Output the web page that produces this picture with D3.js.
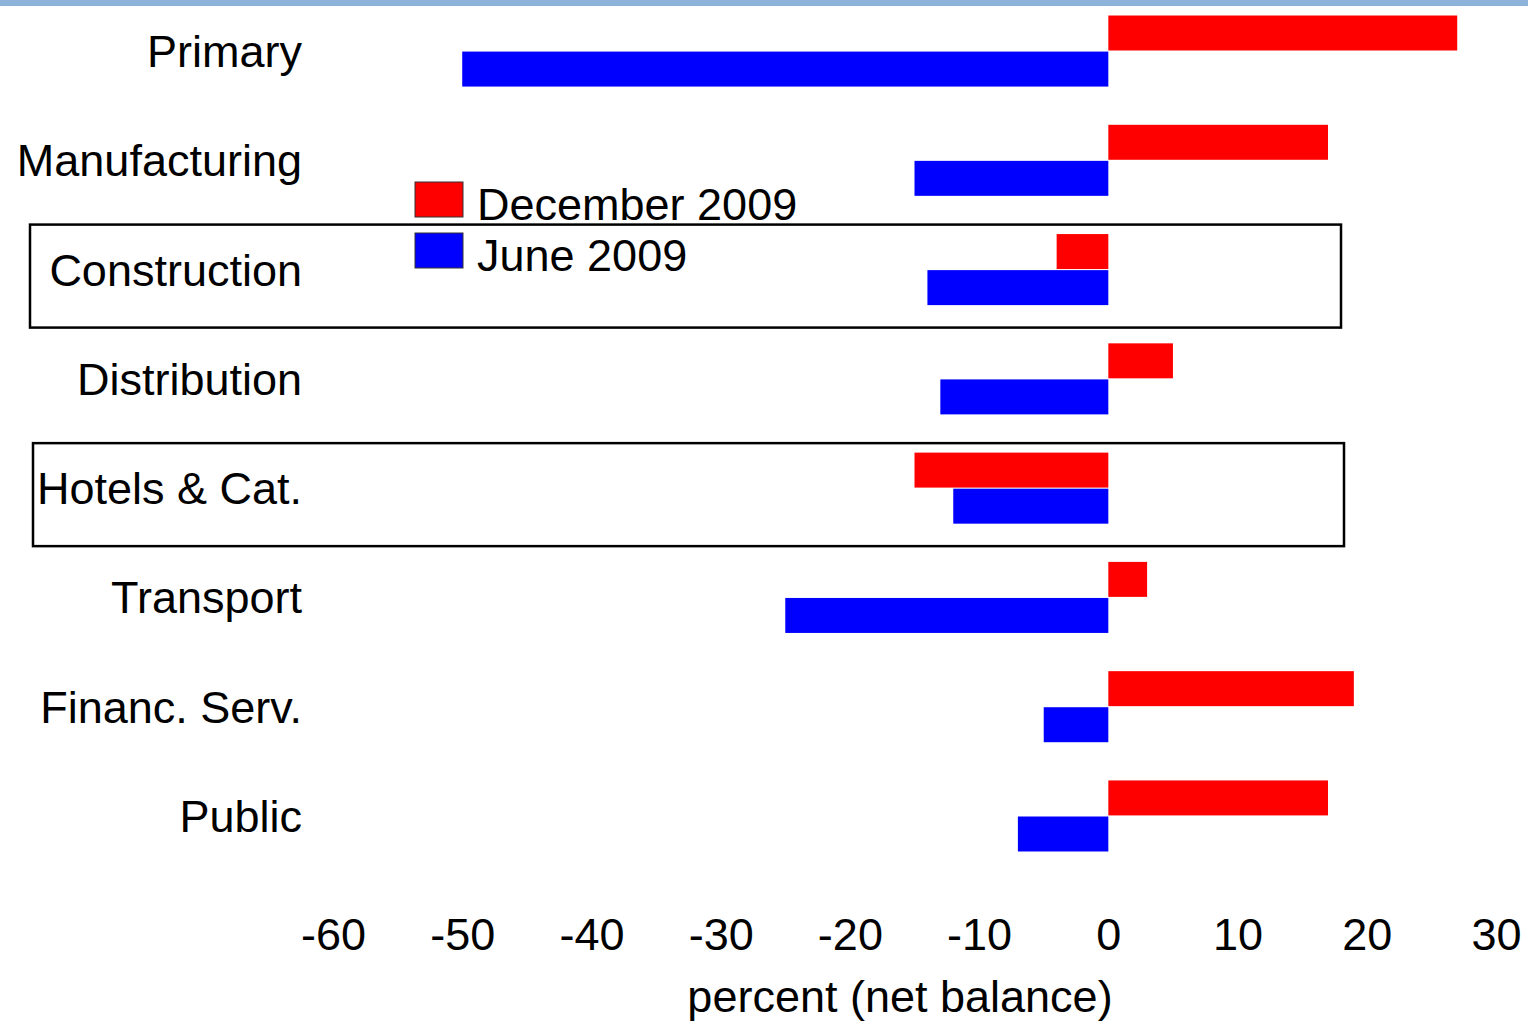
<!DOCTYPE html>
<html>
<head>
<meta charset="utf-8">
<script src="https://cdn.jsdelivr.net/npm/d3@7"></script>
<style>
  body { margin: 0; background: #fff; }
  text { font-family: "Liberation Sans", Arial, sans-serif; fill: #000; }
</style>
</head>
<body>
<div id="chart"></div>
<script>
const categories = ["Primary", "Manufacturing", "Construction", "Distribution",
  "Hotels & Cat.", "Transport", "Financ. Serv.", "Public"];
const december2009 = [27, 17, -4, 5, -15, 3, 19, 17];
const june2009 = [-50, -15, -14, -13, -12, -25, -5, -7];
const xTicks = [-60, -50, -40, -30, -20, -10, 0, 10, 20, 30];
const boxed = ["Construction", "Hotels & Cat."];

const W = 1528, H = 1022;
const fontSize = 45;

const svg = d3.select("#chart").append("svg")
  .attr("width", W).attr("height", H);

// top rule
svg.append("rect").attr("x", 0).attr("y", 0).attr("width", W).attr("height", 6)
  .attr("fill", "#8db3db");

const x = d3.scaleLinear().domain([-60, 30]).range([333, 1496]);
// centres at 51 .. 816
const y = d3.scaleBand().domain(categories).range([-3.6, 870.6]).paddingInner(0.33).paddingOuter(0.165);
const sub = d3.scaleBand().domain(["dec", "jun"]).range([0, y.bandwidth()]).padding(0.03);

// highlight boxes
svg.selectAll(".hbox")
  .data(boxed)
  .join("rect")
  .attr("class", "hbox")
  .attr("x", (d, i) => i === 0 ? 30 : 33)
  .attr("width", 1311)
  .attr("y", (d) => y(d) + y.bandwidth() / 2 - 45)
  .attr("height", 103)
  .attr("fill", "none")
  .attr("stroke", "#000")
  .attr("stroke-width", 2.5);

const series = [
  { key: "dec", label: "December 2009", values: december2009, color: "#ff0000" },
  { key: "jun", label: "June 2009", values: june2009, color: "#0000ff" },
];

series.forEach((s) => {
  svg.selectAll(".bar-" + s.key)
    .data(categories)
    .join("rect")
    .attr("class", "bar-" + s.key)
    .attr("x", (d, i) => x(Math.min(0, s.values[i])))
    .attr("width", (d, i) => Math.abs(x(s.values[i]) - x(0)))
    .attr("y", (d) => y(d) + sub(s.key))
    .attr("height", sub.bandwidth())
    .attr("fill", s.color);
});

// category labels
svg.selectAll(".cat")
  .data(categories)
  .join("text")
  .attr("class", "cat")
  .attr("x", 302)
  .attr("y", (d) => y(d) + y.bandwidth() / 2 + 16)
  .attr("text-anchor", "end")
  .attr("font-size", fontSize)
  .text((d) => d);

// x axis (labels only)
const axis = svg.append("g")
  .attr("transform", "translate(0,904)")
  .call(d3.axisBottom(x).tickValues(xTicks).tickSize(0).tickPadding(0).tickFormat((d) => String(d)));
axis.select(".domain").remove();
axis.selectAll("text")
  .attr("font-size", fontSize)
  .attr("font-family", "Liberation Sans, Arial, sans-serif")
  .attr("fill", "#000")
  .attr("dy", "0")
  .attr("y", 46);

svg.append("text")
  .attr("x", 900).attr("y", 1012)
  .attr("text-anchor", "middle")
  .attr("font-size", fontSize)
  .text("percent (net balance)");

// legend
const legend = svg.append("g").attr("transform", "translate(415,182)");
series.forEach((s, i) => {
  legend.append("rect")
    .attr("x", 0).attr("y", i * 51)
    .attr("width", 48).attr("height", 35)
    .attr("fill", s.color)
    .attr("stroke", "#333").attr("stroke-width", 1);
  legend.append("text")
    .attr("x", 62).attr("y", i * 51 + 38)
    .attr("font-size", fontSize)
    .text(s.label);
});
</script>
</body>
</html>
